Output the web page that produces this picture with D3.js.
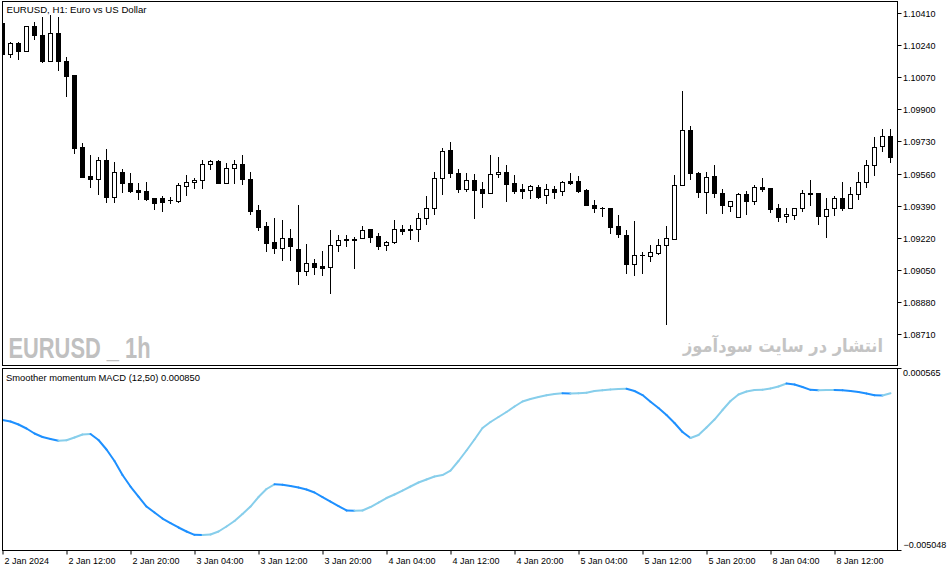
<!DOCTYPE html>
<html><head><meta charset="utf-8">
<script src="https://cdn.jsdelivr.net/npm/d3@7"></script>
<style>body{margin:0;background:#fff;} svg{display:block;}</style>
</head><body><svg id="c" width="951" height="572"></svg>
<script>
// ---------- DATA ----------
const openP = [
1.10354,1.10190,1.10251,1.10209,1.10338,1.10290,1.10156,1.10301,1.10153,1.10081,
1.09700,1.09547,1.09529,1.09630,1.09437,1.09566,1.09510,1.09473,1.09466,1.09429,
1.09430,1.09418,1.09416,1.09492,1.09513,1.09524,1.09609,1.09624,1.09511,1.09587,
1.09609,1.09529,1.09367,1.09282,1.09196,1.09168,1.09217,1.09161,1.09046,1.09085,
1.09071,1.09064,1.09180,1.09215,1.09215,1.09217,1.09265,1.09228,1.09180,1.09196,
1.09268,1.09268,1.09265,1.09323,1.09376,1.09535,1.09684,1.09563,1.09478,1.09526,
1.09478,1.09455,1.09556,1.09568,1.09510,1.09476,1.09471,1.09487,1.09445,1.09476,
1.09466,1.09520,1.09520,1.09473,1.09394,1.09379,1.09378,1.09282,1.09235,1.09080,
1.09129,1.09126,1.09141,1.09180,1.09215,1.09498,1.09788,1.09563,1.09464,1.09545,
1.09455,1.09387,1.09332,1.09452,1.09416,1.09487,1.09482,1.09376,1.09334,1.09342,
1.09376,1.09455,1.09455,1.09337,1.09376,1.09430,1.09379,1.09450,1.09513,1.09603,
1.09704,1.09757];
const highP = [
1.10358,1.10257,1.10257,1.10338,1.10359,1.10389,1.10398,1.10389,1.10174,1.10081,
1.09723,1.09658,1.09646,1.09688,1.09619,1.09584,1.09561,1.09508,1.09515,1.09429,
1.09441,1.09437,1.09511,1.09552,1.09538,1.09630,1.09633,1.09630,1.09615,1.09631,
1.09658,1.09568,1.09392,1.09304,1.09326,1.09313,1.09267,1.09394,1.09186,1.09108,
1.09150,1.09261,1.09235,1.09235,1.09223,1.09282,1.09265,1.09244,1.09203,1.09314,
1.09288,1.09288,1.09350,1.09441,1.09568,1.09693,1.09726,1.09584,1.09563,1.09559,
1.09515,1.09658,1.09647,1.09605,1.09552,1.09503,1.09499,1.09499,1.09504,1.09494,
1.09520,1.09563,1.09547,1.09476,1.09418,1.09385,1.09378,1.09338,1.09261,1.09309,
1.09143,1.09182,1.09214,1.09282,1.09550,1.09996,1.09811,1.09566,1.09566,1.09603,
1.09478,1.09416,1.09455,1.09467,1.09498,1.09536,1.09482,1.09399,1.09376,1.09376,
1.09473,1.09526,1.09455,1.09430,1.09439,1.09517,1.09489,1.09568,1.09631,1.09753,
1.09795,1.09795];
const lowP = [
1.10181,1.10177,1.10165,1.10209,1.10269,1.10149,1.10156,1.10107,1.09970,1.09670,
1.09540,1.09490,1.09450,1.09408,1.09408,1.09461,1.09461,1.09425,1.09420,1.09372,
1.09363,1.09406,1.09411,1.09446,1.09485,1.09485,1.09585,1.09511,1.09511,1.09511,
1.09504,1.09346,1.09261,1.09152,1.09141,1.09103,1.09103,1.08977,1.09024,1.09029,
1.09024,1.08927,1.09152,1.09178,1.09059,1.09217,1.09196,1.09161,1.09156,1.09191,
1.09240,1.09214,1.09205,1.09293,1.09346,1.09452,1.09543,1.09464,1.09469,1.09326,
1.09385,1.09455,1.09543,1.09416,1.09458,1.09432,1.09429,1.09432,1.09406,1.09432,
1.09445,1.09503,1.09464,1.09394,1.09358,1.09337,1.09245,1.09226,1.09036,1.09025,
1.09036,1.09099,1.09134,1.08766,1.09215,1.09498,1.09529,1.09434,1.09353,1.09434,
1.09353,1.09363,1.09328,1.09346,1.09400,1.09469,1.09358,1.09310,1.09305,1.09318,
1.09363,1.09394,1.09295,1.09226,1.09342,1.09367,1.09376,1.09425,1.09490,1.09554,
1.09681,1.09622];
const closeP = [
1.10190,1.10251,1.10209,1.10338,1.10290,1.10155,1.10301,1.10156,1.10077,1.09696,
1.09543,1.09529,1.09630,1.09437,1.09566,1.09508,1.09469,1.09464,1.09425,1.09406,
1.09411,1.09419,1.09499,1.09513,1.09524,1.09609,1.09624,1.09511,1.09587,1.09609,
1.09529,1.09363,1.09279,1.09194,1.09168,1.09217,1.09178,1.09046,1.09085,1.09067,
1.09059,1.09180,1.09208,1.09207,1.09207,1.09261,1.09226,1.09178,1.09196,1.09265,
1.09258,1.09261,1.09323,1.09376,1.09535,1.09679,1.09561,1.09478,1.09526,1.09473,
1.09455,1.09557,1.09568,1.09506,1.09467,1.09469,1.09492,1.09437,1.09476,1.09464,
1.09513,1.09511,1.09467,1.09394,1.09376,1.09376,1.09279,1.09239,1.09080,1.09129,
1.09131,1.09143,1.09180,1.09217,1.09498,1.09788,1.09564,1.09464,1.09543,1.09455,
1.09395,1.09413,1.09452,1.09416,1.09487,1.09478,1.09374,1.09332,1.09344,1.09376,
1.09455,1.09454,1.09337,1.09371,1.09429,1.09376,1.09450,1.09513,1.09603,1.09698,
1.09757,1.09649];
const macdValues = [
-0.001004,-0.001051,-0.001143,-0.001267,-0.001422,-0.001530,-0.001592,-0.001645,-0.001632,-0.001546,
-0.001453,-0.001437,-0.001623,-0.001917,-0.002273,-0.002706,-0.003062,-0.003371,-0.003681,-0.003866,
-0.004052,-0.004191,-0.004330,-0.004454,-0.004556,-0.004563,-0.004547,-0.004454,-0.004299,-0.004129,
-0.003913,-0.003681,-0.003387,-0.003139,-0.002994,-0.003009,-0.003046,-0.003093,-0.003155,-0.003247,
-0.003387,-0.003526,-0.003665,-0.003804,-0.003814,-0.003804,-0.003696,-0.003557,-0.003418,-0.003309,
-0.003186,-0.003062,-0.002938,-0.002845,-0.002752,-0.002706,-0.002567,-0.002273,-0.001948,-0.001607,
-0.001252,-0.001066,-0.000911,-0.000757,-0.000586,-0.000432,-0.000354,-0.000292,-0.000240,-0.000200,
-0.000178,-0.000184,-0.000175,-0.000159,-0.000107,-0.000085,-0.000060,-0.000045,-0.000036,-0.000107,
-0.000231,-0.000438,-0.000633,-0.000849,-0.001097,-0.001375,-0.001561,-0.001468,-0.001236,-0.000989,
-0.000695,-0.000416,-0.000215,-0.000122,-0.000076,-0.000067,-0.000029,0.000032,0.000125,0.000094,
0.000017,-0.000070,-0.000082,-0.000076,-0.000073,-0.000085,-0.000107,-0.000138,-0.000184,-0.000240,
-0.000243,-0.000178];

const tradingDays = [
  {day: "2 Jan", firstHour: 4, lastHour: 23},
  {day: "3 Jan", firstHour: 0, lastHour: 23},
  {day: "4 Jan", firstHour: 0, lastHour: 23},
  {day: "5 Jan", firstHour: 0, lastHour: 23},
  {day: "8 Jan", firstHour: 0, lastHour: 19}
];
const priceTicks = [1.10410,1.10240,1.10070,1.09900,1.09730,1.09560,1.09390,1.09220,1.09050,1.08880,1.08710];
const macdTicks = [0.000565, -0.005048];
const xTickTimes = ["2 Jan 04:00","2 Jan 12:00","2 Jan 20:00","3 Jan 04:00","3 Jan 12:00","3 Jan 20:00",
  "4 Jan 04:00","4 Jan 12:00","4 Jan 20:00","5 Jan 04:00","5 Jan 12:00","5 Jan 20:00","8 Jan 04:00","8 Jan 12:00"];
const xTickLabels = ["2 Jan 2024","2 Jan 12:00","2 Jan 20:00","3 Jan 04:00","3 Jan 12:00","3 Jan 20:00",
  "4 Jan 04:00","4 Jan 12:00","4 Jan 20:00","5 Jan 04:00","5 Jan 12:00","5 Jan 20:00","8 Jan 04:00","8 Jan 12:00"];
const chartTitle = "EURUSD, H1:  Euro vs US Dollar";
const macdTitle = "Smoother momentum MACD (12,50) 0.000850";
const watermarkLeft = "EURUSD _ 1h";
const watermarkRight = "انتشار در سایت سودآموز";

// ---------- BUILD ----------
const times = [];
tradingDays.forEach(d => { for (let h = d.firstHour; h <= d.lastHour; h++) times.push(d.day + " " + String(h).padStart(2,"0") + ":00"); });
const candles = times.map((t,i) => ({t, o: openP[i], h: highP[i], l: lowP[i], c: closeP[i], m: macdValues[i]}));

const FONT = "'Liberation Sans', Arial, sans-serif";
const L = 2.5, R = 897.5, mainTop = 1.5, mainBot = 365.5, subTop = 368.5, subBot = 550.5;
const svg = d3.select("#c");
svg.append("rect").attr("width",951).attr("height",572).attr("fill","#fff");

const x = d3.scalePoint().domain(times).range([2.5, 890.5]);
const y = d3.scaleLinear().domain([1.10410, 1.08710]).range([12.7, 334.3]);
const ym = d3.scaleLinear().domain([0.000565, -0.005048]).range([369.3, 550.7]);

const defs = svg.append("defs");
defs.append("clipPath").attr("id","clipMain").append("rect").attr("x",L).attr("y",mainTop).attr("width",R-L).attr("height",mainBot-mainTop);
defs.append("clipPath").attr("id","clipSub").append("rect").attr("x",L).attr("y",subTop).attr("width",R-L).attr("height",subBot-subTop);

// watermarks
svg.append("text").attr("x",8.5).attr("y",357.5).text(watermarkLeft)
  .attr("font-family","'Liberation Sans', Arial, sans-serif").attr("font-weight","bold").attr("font-size",30)
  .attr("fill","#c0c0c0").attr("textLength",142).attr("lengthAdjust","spacingAndGlyphs");
svg.append("text").attr("x",683).attr("y",352).text(watermarkRight)
  .attr("font-family","'DejaVu Sans', sans-serif").attr("font-weight","bold").attr("font-size",18)
  .attr("fill","#c4c4c4").attr("textLength",200).attr("lengthAdjust","spacingAndGlyphs");

// candles
const gC = svg.append("g").attr("clip-path","url(#clipMain)");
const py = v => Math.round(y(v));
candles.forEach(d => {
  const cx = x(d.t);
  const yo = py(d.o), yc = py(d.c), yh = py(d.h), yl = py(d.l);
  gC.append("line").attr("x1",cx).attr("x2",cx).attr("y1",yh).attr("y2",yl+1).attr("stroke","#000").attr("stroke-width",1);
  const top = Math.min(yo,yc), bot = Math.max(yo,yc);
  if (yo === yc) {
    gC.append("line").attr("x1",cx-2.5).attr("x2",cx+2.5).attr("y1",top+0.5).attr("y2",top+0.5).attr("stroke","#000");
  } else if (d.c < d.o) {
    gC.append("rect").attr("x",cx-2.5).attr("y",top).attr("width",5).attr("height",bot-top+1).attr("fill","#000");
  } else {
    gC.append("rect").attr("x",cx-2).attr("y",top+0.5).attr("width",4).attr("height",bot-top)
      .attr("fill","#fff").attr("stroke","#000").attr("stroke-width",1);
  }
});

// macd line (colored by direction)
const gM = svg.append("g").attr("clip-path","url(#clipSub)");
let col = "#1e90ff";
for (let i = 1; i < candles.length; i++) {
  const a = candles[i-1], b = candles[i];
  if (b.m > a.m) col = "#87ceeb"; else if (b.m < a.m) col = "#1e90ff";
  gM.append("line").attr("x1",x(a.t)).attr("y1",ym(a.m)).attr("x2",x(b.t)).attr("y2",ym(b.m))
    .attr("stroke",col).attr("stroke-width",2).attr("stroke-linecap","round");
}

// frames
[[mainTop,mainBot],[subTop,subBot]].forEach(([t,b]) => {
  svg.append("rect").attr("x",L).attr("y",t).attr("width",R-L).attr("height",b-t)
    .attr("fill","none").attr("stroke","#000").attr("stroke-width",1);
});

// price axis
const gy = svg.append("g").attr("transform",`translate(${R},0)`)
  .call(d3.axisRight(y).tickValues(priceTicks).tickSize(4).tickFormat(d3.format(".5f")));
gy.select(".domain").remove();
gy.selectAll(".tick").attr("transform", d => `translate(0,${Math.round(y(d))+0.5})`);
gy.selectAll(".tick line").attr("stroke","#000").attr("x1",0.5);
gy.selectAll(".tick text").attr("x",5.5).attr("dy","0.34em").attr("fill","#000")
  .attr("font-family",FONT).attr("font-size",9);

// macd axis
const gm = svg.append("g").attr("transform",`translate(${R},0)`)
  .call(d3.axisRight(ym).tickValues(macdTicks).tickSize(4).tickFormat(d3.format(".6f")));
gm.select(".domain").remove();
gm.selectAll(".tick").attr("transform", d => `translate(0,${Math.round(ym(d))-0.5})`);
gm.selectAll(".tick line").attr("stroke","#000").attr("x1",0.5);
gm.selectAll(".tick text").attr("x",d => d < 0 ? 6 : 5.5).attr("dy",null)
  .attr("y", d => d > 0 ? 7.8 : -2.4).attr("fill","#000")
  .attr("font-family",FONT).attr("font-size",9);

// time axis
const gx = svg.append("g").attr("transform",`translate(0,${subBot})`)
  .call(d3.axisBottom(x).tickValues(xTickTimes).tickSize(4).tickFormat((d,i) => xTickLabels[i]));
gx.select(".domain").remove();
gx.selectAll(".tick line").attr("stroke","#000").attr("y1",0.5);
gx.selectAll(".tick text").attr("text-anchor","start").attr("x",1.5).attr("y",7).attr("dy","0.71em")
  .attr("fill","#000").attr("font-family",FONT).attr("font-size",9);

// titles
svg.append("text").attr("x",6.5).attr("y",13.3).text(chartTitle)
  .attr("font-family",FONT).attr("font-size",9.5).attr("fill","#000")
  .attr("textLength",140).attr("lengthAdjust","spacingAndGlyphs");
svg.append("text").attr("x",6).attr("y",381.2).text(macdTitle)
  .attr("font-family",FONT).attr("font-size",9.5).attr("fill","#000")
  .attr("textLength",194).attr("lengthAdjust","spacingAndGlyphs");
</script></body></html>
